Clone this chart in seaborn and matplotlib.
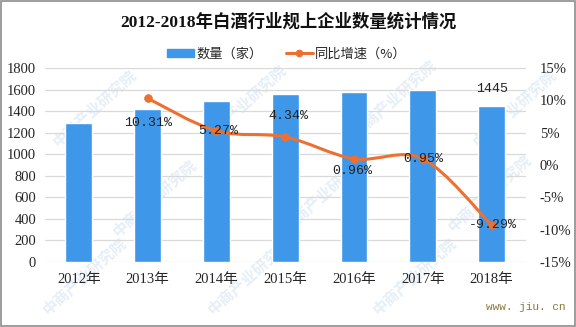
import numpy as np
import pandas as pd
import matplotlib
matplotlib.use("Agg")
import matplotlib.pyplot as plt
import seaborn as sns
from matplotlib.path import Path
from matplotlib.patches import PathPatch, Patch, Rectangle
from matplotlib.lines import Line2D

# ---- data ----
years = ["2012年", "2013年", "2014年", "2015年", "2016年", "2017年", "2018年"]
counts = [1290, 1423, 1498, 1563, 1578, 1593, 1445]
growth_years = years[1:]
growth = [10.31, 5.27, 4.34, 0.96, 0.95, -9.29]
left_ticks = list(range(0, 1801, 200))
right_ticks = list(range(-15, 16, 5))

BLUE = "#3f97ea"
ORANGE = "#ed7031"
GRID = "#d9d9d9"

sns.set_theme(style="white")
plt.rcParams["font.family"] = ["Liberation Serif", "Noto Sans CJK SC", "DejaVu Sans"]
plt.rcParams["axes.unicode_minus"] = False

fig = plt.figure(figsize=(5.76, 3.27), dpi=100)
fig.patch.set_facecolor("white")
fig.add_artist(Rectangle((0.002, 0.003), 0.996, 0.994, transform=fig.transFigure,
                         fill=False, edgecolor="#8c8c8c", linewidth=1.2))

# faint diagonal watermark
for wx, wy in [(50, 150), (200, 145), (350, 140), (470, 150),
               (110, 240), (280, 235), (445, 235),
               (40, 318), (205, 318), (370, 318)]:
    fig.text(wx / 576, 1 - wy / 327, "中商产业研究院", rotation=42, fontsize=11,
             color="#e6eef7", family=["Noto Sans CJK SC"], ha="left", va="bottom",
             zorder=0, fontweight="bold")

ax = fig.add_axes([44.5 / 576, 1 - 262 / 327, (526 - 44.5) / 576, (262 - 68) / 327])
ax.set_facecolor("none")
ax.set_zorder(2)

df = pd.DataFrame({"year": years, "count": counts})
sns.barplot(data=df, x="year", y="count", color=BLUE, saturation=1, width=0.39, ax=ax, zorder=3)

ax.set_ylim(0, 1800)
ax.set_xlim(-0.5, len(years) - 0.5)
ax.set_yticks(left_ticks)
ax.set_yticklabels([str(t) for t in left_ticks], fontsize=10.5)
ax.yaxis.grid(True, color=GRID, linewidth=0.9, zorder=0)
ax.set_axisbelow(True)
ax.set_xlabel("")
ax.set_ylabel("")
ax.tick_params(axis="x", labelsize=10.5, length=0, pad=8)
ax.tick_params(axis="y", length=0, pad=6)
for s in ax.spines.values():
    s.set_visible(False)

# value label on the last bar
ax.annotate(str(counts[-1]), (len(years) - 1, counts[-1]), xytext=(0, 8),
            textcoords="offset points", ha="center", va="bottom",
            fontsize=9.5, family=["Liberation Mono"], color="#222222", zorder=6)

# ---- growth rate on the secondary axis ----
ax2 = ax.twinx()
ax2.set_ylim(-15, 15)
ax2.set_yticks(right_ticks)
ax2.set_yticklabels([f"{t}%" for t in right_ticks], fontsize=10.5)
ax2.tick_params(axis="y", length=0, pad=10)
for s in ax2.spines.values():
    s.set_visible(False)
ax2.grid(False)

gx = np.array([years.index(y) for y in growth_years], dtype=float)
gy = np.array(growth, dtype=float)

# smooth curve through the points (Catmull-Rom as cubic Bezier segments)
P = np.column_stack([gx, gy])
Pp = np.vstack([P[0], P, P[-1]])
verts = [tuple(P[0])]
codes = [Path.MOVETO]
for i in range(len(P) - 1):
    p0, p1, p2, p3 = Pp[i], Pp[i + 1], Pp[i + 2], Pp[i + 3]
    c1 = p1 + (p2 - p0) / 6.0
    c2 = p2 - (p3 - p1) / 6.0
    verts += [tuple(c1), tuple(c2), tuple(p2)]
    codes += [Path.CURVE4] * 3
ax2.add_patch(PathPatch(Path(verts, codes), facecolor="none", edgecolor=ORANGE,
                        linewidth=2.2, zorder=4))
sns.scatterplot(x=gx, y=gy, ax=ax2, color=ORANGE, s=32, edgecolor=ORANGE, zorder=5, legend=False)

offsets = [(0, -18), (1, 0), (2, 15), (-1, -9), (0, 0), (1, 0)]
for x, y, (dx, dy) in zip(gx, gy, offsets):
    ax2.annotate(f"{y:.2f}%", (x, y), xytext=(dx, dy), textcoords="offset points",
                 ha="center", va="center", fontsize=9.5, family=["Liberation Mono"],
                 color="#222222", zorder=6)

# ---- title and legend ----
fig.text(288 / 576, 1 - 21.5 / 327, "2012-2018年白酒行业规上企业数量统计情况",
         ha="center", va="center", fontsize=12.5, fontweight="bold", color="#111111")

handles = [Patch(facecolor=BLUE, edgecolor=BLUE),
           Line2D([0], [0], color=ORANGE, linewidth=2.2, marker="o", markersize=4.5)]
fig.legend(handles, ["数量（家）", "同比增速（%）"], loc="center",
           bbox_to_anchor=(287 / 576, 1 - 54 / 327), ncol=2, frameon=False,
           prop={"family": ["Noto Sans CJK SC"], "size": 9.5},
           handlelength=2.0, handleheight=0.6, columnspacing=1.8, handletextpad=0.2)

fig.text(566 / 576, 1 - 307 / 327, "www. jiu. cn", ha="right", va="center",
         fontsize=8, family=["Liberation Mono"], color="#8a7a3a")

fig.savefig("out.png", dpi=100)
